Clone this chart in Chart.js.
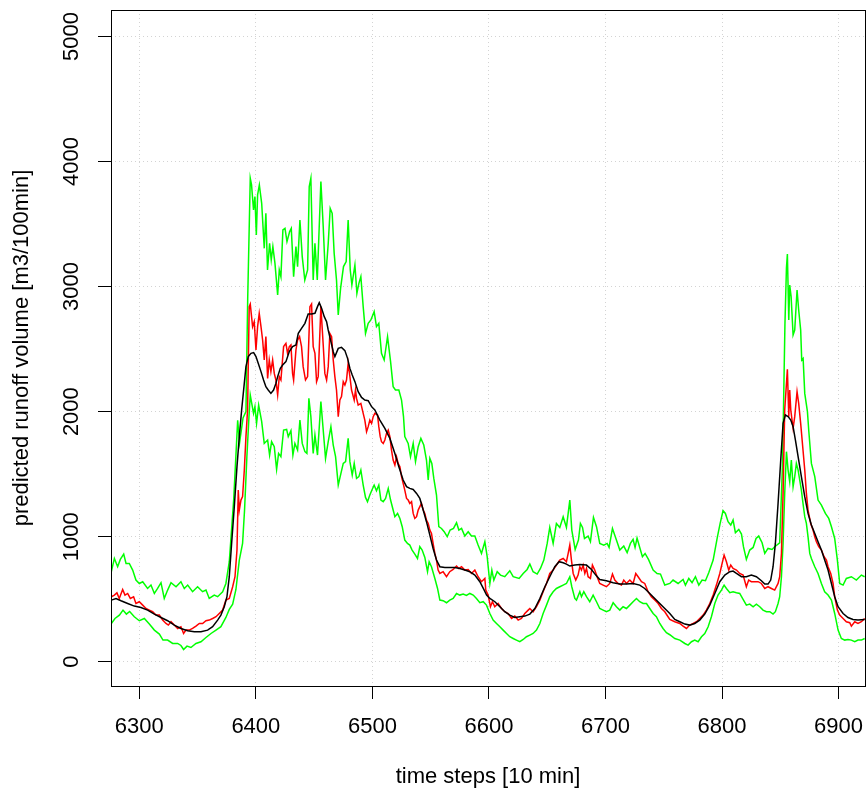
<!DOCTYPE html>
<html>
<head>
<meta charset="utf-8">
<script src="https://cdn.jsdelivr.net/npm/chart.js@4.4.1/dist/chart.umd.min.js"></script>
<style>
    html, body { margin: 0; padding: 0; background: #fff; }
    #caixa { width: 866px; height: 794px; position: relative; }
</style>
</head>
<body>
<div id="caixa"><canvas id="grafico"></canvas></div>
<script>
// ticks e titulos
const xTicks = [6300, 6400, 6500, 6600, 6700, 6800, 6900];
const yTicks = [0, 1000, 2000, 3000, 4000, 5000];
const xTitulo = "time steps [10 min]";
const yTitulo = "predicted runoff volume [m3/100min]";
const xLimites = [6275.7, 6922.7];
const yLimites = [-194, 5212];

// series: [passo de tempo, volume]
const linhaPreta = [[6276,493],[6280,506],[6284.3,488],[6290,466],[6295.7,445],[6301.4,434],[6307.1,413],[6312.9,381],[6318.6,354],[6324.3,328],[6330,293],[6335.7,266],[6341.5,248],[6347.2,240],[6352.9,240],[6358.6,253],[6362.9,280],[6367.2,333],[6370,373],[6372.9,440],[6375.2,520],[6377.2,680],[6379.2,946],[6381.5,1240],[6383.8,1560],[6385.8,1800],[6387.8,2013],[6391.5,2360],[6393.5,2440],[6395.8,2466],[6398.1,2472],[6400.1,2440],[6402.1,2386],[6404.4,2320],[6406.6,2253],[6408.6,2200],[6410.6,2173],[6412.9,2146],[6415.2,2173],[6417.2,2226],[6418.7,2280],[6421,2346],[6423,2373],[6425.8,2400],[6428.7,2480],[6431.5,2520],[6434.4,2533],[6436.4,2626],[6439.2,2666],[6442.1,2706],[6444.9,2781],[6447.8,2781],[6450.7,2786],[6452.9,2840],[6454.4,2871],[6456.4,2826],[6458.7,2760],[6460.7,2720],[6462.1,2653],[6464.4,2560],[6466.4,2480],[6467.8,2440],[6470.7,2506],[6473.5,2514],[6476.4,2488],[6478.7,2426],[6480.7,2346],[6482.7,2293],[6485,2240],[6487.8,2160],[6490.7,2114],[6493.5,2093],[6496.4,2088],[6499.3,2040],[6502.1,2013],[6506.4,1933],[6510.7,1866],[6515,1786],[6519.3,1666],[6522.7,1560],[6526.4,1453],[6529.3,1400],[6532.1,1386],[6535,1378],[6537.9,1346],[6540.7,1306],[6543.6,1213],[6546.4,1120],[6549.3,1013],[6552.1,906],[6555,813],[6557.9,760],[6562.2,754],[6570.7,754],[6575,746],[6579.3,733],[6583.6,720],[6587.9,693],[6592.2,640],[6595.5,580],[6598,533],[6600.8,506],[6605.1,480],[6609.4,440],[6613.6,400],[6617.9,373],[6622.2,354],[6626.5,360],[6630.8,365],[6635.1,381],[6639.4,426],[6643.7,506],[6648,600],[6652.2,680],[6656.5,760],[6660.2,800],[6663.7,792],[6666.5,781],[6669.4,765],[6673.7,773],[6678,778],[6683.7,773],[6688,738],[6691.7,693],[6695.1,658],[6700.8,648],[6706.6,632],[6712.3,621],[6718,621],[6723.7,626],[6729.4,613],[6733.7,586],[6738,546],[6742.3,506],[6746.6,466],[6750.9,426],[6755.2,386],[6759.5,338],[6763.8,320],[6768.1,301],[6772.3,293],[6776.6,306],[6780.9,333],[6785.2,381],[6789.5,453],[6793.8,546],[6798.1,640],[6802.4,693],[6806.7,720],[6809.5,725],[6812.4,706],[6816.7,680],[6820.9,680],[6825.2,693],[6829.5,680],[6833.8,648],[6836.7,621],[6839.5,621],[6841.8,653],[6843.8,760],[6845.8,946],[6848.1,1266],[6850.4,1613],[6852.4,1906],[6854.4,1973],[6856.7,1960],[6859,1933],[6861,1880],[6863,1773],[6865.3,1640],[6868.1,1480],[6871,1320],[6873.8,1186],[6876.7,1093],[6879.6,1026],[6882.4,960],[6885.3,893],[6888.1,813],[6891,733],[6893.9,626],[6896.7,520],[6899.6,440],[6903.9,386],[6908.1,354],[6912.4,338],[6916.7,333],[6922.4,338]];

const linhaVermelha = [[6276,520],[6278.6,533],[6280.8,551],[6282.8,506],[6285.7,578],[6287.7,533],[6290,546],[6292.3,506],[6295.1,520],[6297.1,466],[6300,480],[6302.9,453],[6305.7,426],[6308.6,413],[6311.4,400],[6314.3,373],[6317.2,373],[6320,333],[6322.9,306],[6324.9,293],[6327.2,320],[6330,293],[6332.9,266],[6335.7,280],[6338,226],[6340,253],[6342.9,253],[6345.7,266],[6348.6,285],[6351.5,306],[6354.3,306],[6357.2,328],[6360,333],[6362.9,346],[6365.8,360],[6368.6,386],[6371.5,413],[6374.3,493],[6377.2,506],[6380.1,600],[6382.1,680],[6383.8,893],[6384.9,1373],[6385.8,1213],[6387.2,1293],[6388.6,1320],[6390.1,1533],[6391.5,1800],[6392.9,2013],[6394.3,2840],[6395.2,2861],[6397.2,2680],[6398.6,2720],[6400.1,2493],[6401.5,2680],[6402.9,2786],[6404.4,2680],[6405.8,2573],[6407.2,2413],[6408.6,2600],[6410.1,2266],[6411.5,2413],[6412.9,2320],[6414.4,2413],[6415.8,2306],[6417.2,2253],[6418.7,2133],[6420.1,2280],[6421.5,2253],[6423.8,2520],[6425.8,2546],[6427.2,2466],[6428.7,2520],[6430.1,2533],[6431.5,2306],[6432.4,2253],[6434.4,2493],[6435.8,2573],[6437.5,2600],[6439.2,2520],[6440.6,2360],[6442.6,2253],[6444.4,2280],[6446.4,2840],[6447.8,2861],[6449.2,2520],[6450.7,2466],[6452.1,2240],[6453.5,2280],[6455.8,2840],[6457.8,2533],[6459.2,2306],[6460.7,2253],[6462.1,2360],[6463.5,2626],[6465,2600],[6466.4,2413],[6467.8,2280],[6469.2,2173],[6470.7,1960],[6472.1,2093],[6473.5,2120],[6475,2240],[6476.4,2213],[6477.8,2253],[6479.2,2386],[6480.7,2280],[6482.1,2173],[6484.4,2093],[6485.5,2173],[6486.4,2106],[6487.8,2053],[6490.1,2066],[6492.1,1986],[6493.5,1933],[6495,1840],[6496.4,1880],[6497.8,1933],[6499.3,1906],[6500.7,1960],[6502.1,1986],[6504.4,1973],[6505.5,1880],[6506.7,1800],[6507.8,1760],[6509.3,1746],[6510.7,1773],[6512.1,1826],[6513.6,1853],[6515,1800],[6516.4,1693],[6517.8,1613],[6519.3,1573],[6520.7,1640],[6522.1,1586],[6523.6,1560],[6525,1480],[6526.4,1426],[6527.8,1373],[6529.3,1306],[6530.7,1293],[6532.1,1266],[6533.6,1280],[6535,1186],[6536.4,1146],[6537.9,1160],[6539.3,1213],[6540.7,1240],[6542.1,1266],[6543.6,1213],[6545,1186],[6546.4,1133],[6547.9,1106],[6549.3,1053],[6550.7,1026],[6552.1,946],[6553.6,866],[6555,813],[6556.4,733],[6557.9,706],[6560.7,720],[6563.6,680],[6566.4,720],[6569.3,738],[6572.2,765],[6574.2,746],[6576.5,760],[6579.3,733],[6582.2,738],[6585,706],[6587.9,733],[6590.7,680],[6593.6,640],[6596.5,666],[6597.3,573],[6599.3,533],[6601.3,440],[6603,480],[6605,440],[6607.9,466],[6610.8,426],[6613.6,400],[6616.5,386],[6619.4,346],[6622.2,365],[6625.1,333],[6627.9,346],[6630.8,386],[6633.7,413],[6635.1,426],[6637.9,400],[6640.8,440],[6643.7,493],[6646.5,560],[6649.4,626],[6652.2,706],[6655.1,733],[6657.9,773],[6660.8,813],[6663.7,826],[6666.5,800],[6668,866],[6669.4,933],[6670.8,813],[6672.3,706],[6674.5,653],[6676.5,693],[6678,760],[6679.4,733],[6680.8,773],[6682.3,706],[6683.7,746],[6685.1,680],[6687.1,666],[6688.8,773],[6690.8,733],[6692.8,680],[6695.1,626],[6698,613],[6700.8,600],[6703.7,626],[6706,701],[6708,653],[6710.8,626],[6713.7,613],[6715.7,653],[6718,626],[6720.9,653],[6723.7,626],[6726,706],[6728,680],[6730.9,640],[6733.7,626],[6736.6,560],[6739.4,520],[6742.3,493],[6745.2,466],[6748,426],[6750.9,400],[6753.7,360],[6755.2,338],[6759.5,320],[6763.8,306],[6766.6,285],[6769.5,266],[6772.3,293],[6775.2,306],[6778.1,320],[6780.9,346],[6783.8,373],[6786.6,413],[6789.5,466],[6792.4,533],[6795.2,613],[6798.1,706],[6800.1,786],[6801.8,853],[6803.8,800],[6805.8,733],[6807.5,773],[6809.5,746],[6812.4,733],[6815.2,706],[6818.1,693],[6820.9,600],[6822.9,653],[6825.2,640],[6828.1,640],[6831,640],[6833.8,626],[6836.7,586],[6839.5,600],[6842.4,586],[6845.2,573],[6848.1,626],[6849.5,680],[6851,866],[6852.4,1346],[6853.8,2013],[6856.1,2338],[6857.3,1960],[6858.1,2173],[6859,2013],[6861,1866],[6862.4,1960],[6864.4,2160],[6865.8,2066],[6867.5,1906],[6869.5,1693],[6871,1533],[6872.4,1346],[6873.8,1213],[6876.1,1106],[6878.1,1053],[6879.6,1000],[6881,960],[6883,920],[6885.3,893],[6887.6,840],[6889.6,813],[6891,760],[6893.3,706],[6895.3,626],[6896.7,520],[6899,413],[6901,373],[6903.9,346],[6906.7,320],[6909.6,312],[6911,285],[6913.9,320],[6916.7,306],[6919.6,320],[6922.4,346]];

const verdeSuperior = [[6276,720],[6278.6,826],[6281.4,760],[6283.7,818],[6286.6,861],[6288.6,786],[6291.4,786],[6294.3,733],[6297.1,653],[6300,626],[6302.9,640],[6307.1,586],[6310,613],[6312.9,546],[6315.7,586],[6318.6,632],[6321.4,506],[6324.3,573],[6327.2,632],[6331.5,600],[6335.7,640],[6338.6,586],[6341.5,613],[6345.7,560],[6350,600],[6354.3,560],[6357.2,573],[6360,506],[6364.3,533],[6367.2,520],[6371.5,560],[6374.3,626],[6377.2,800],[6381,1300],[6384.4,1930],[6386,1750],[6389,1950],[6391.5,2000],[6393,2900],[6395.2,3866],[6396.3,3813],[6398,3613],[6399.2,3720],[6400.4,3413],[6401.5,3733],[6403,3813],[6405,3666],[6407.2,3306],[6408.6,3586],[6410,3133],[6411.8,3346],[6413.2,3213],[6414.6,3320],[6416.4,3186],[6418.7,2933],[6420.1,3133],[6421.5,3080],[6423.2,3453],[6425,3466],[6426.7,3360],[6429,3440],[6430.4,3466],[6432.4,3080],[6434.4,3320],[6435.8,3160],[6437.8,3533],[6439.8,3240],[6442,3053],[6444.4,3133],[6445.8,3800],[6447.2,3866],[6449.2,3053],[6450.7,3346],[6452.7,3053],[6455.8,3840],[6457.8,3480],[6459.8,3053],[6462.1,3346],[6463.8,3626],[6465.5,3586],[6467.2,3266],[6469.2,3053],[6470.7,2773],[6472.7,2986],[6475.2,3160],[6477.5,3200],[6479.2,3533],[6481,3133],[6482.4,3013],[6485,3173],[6486.7,2946],[6488.4,3026],[6490.1,3080],[6492.1,2840],[6494.1,2626],[6496.4,2706],[6498.7,2733],[6501.5,2800],[6503.5,2680],[6505.5,2706],[6507.8,2466],[6510.1,2413],[6513,2600],[6515.6,2400],[6517.8,2200],[6519.8,2173],[6522.7,2173],[6525,2093],[6526.7,1960],[6527.8,1800],[6530.7,1746],[6532.7,1640],[6535,1746],[6537,1600],[6539.3,1720],[6541.6,1786],[6544.1,1733],[6546.4,1613],[6547.9,1453],[6549.3,1626],[6551,1586],[6552.7,1466],[6555,1333],[6557,1080],[6559.3,1066],[6561.6,1040],[6564.2,1000],[6566.7,1053],[6569.6,1066],[6572.2,1112],[6574.2,1053],[6576.5,1066],[6579.3,1005],[6582.2,1040],[6585,1005],[6587.9,1005],[6590.7,933],[6593.6,866],[6596.5,960],[6598.5,840],[6600.8,626],[6602.5,733],[6604.2,653],[6607.1,720],[6609.9,693],[6613.6,680],[6617.9,728],[6620.8,680],[6625.9,666],[6629.4,706],[6632.8,738],[6635.1,781],[6637.9,720],[6641.4,701],[6644.2,746],[6647.1,813],[6650,946],[6652.2,1074],[6655.1,946],[6657.9,1106],[6660.8,1074],[6663.7,1160],[6666.5,1074],[6669.4,1293],[6671.1,1053],[6674,898],[6676.8,973],[6678.5,1106],[6680.3,1074],[6682,986],[6685.1,1005],[6687.1,960],[6689.7,1154],[6692.3,1080],[6695.1,946],[6698.6,933],[6701.4,946],[6703.1,914],[6706,1066],[6709.4,973],[6712.3,893],[6715.7,925],[6718.6,872],[6721.4,946],[6723.7,978],[6725.4,914],[6727.1,989],[6729.4,914],[6731.7,840],[6734,866],[6736.9,818],[6740.9,733],[6744.3,706],[6747.2,701],[6750.9,613],[6755.2,626],[6758,653],[6762.3,626],[6766.6,658],[6768.6,613],[6771.5,666],[6774.3,632],[6777.2,680],[6780.1,613],[6782.9,653],[6785.8,648],[6788.6,712],[6792.4,813],[6796.1,1000],[6798.4,1106],[6800.9,1208],[6802.9,1186],[6805.2,1120],[6807.5,1093],[6809.5,1133],[6811.5,1032],[6814.4,1058],[6816.7,1021],[6818.4,920],[6820.9,818],[6823.8,893],[6826.7,914],[6829.2,986],[6831.5,1005],[6834.4,952],[6836.7,866],[6839.5,906],[6843,898],[6845.2,920],[6849.5,950],[6852,1600],[6854,2700],[6855.3,3150],[6856.1,3261],[6857.3,2733],[6858.1,3013],[6859.3,2920],[6861,2613],[6862.4,2653],[6864.4,2973],[6865.8,2813],[6867.5,2653],[6868.4,2413],[6869.6,2426],[6871,2146],[6873.3,2000],[6874.4,1853],[6876.7,1586],[6879.6,1480],[6882.4,1293],[6885.3,1253],[6888.7,1186],[6891.6,1146],[6893.9,1080],[6896.7,986],[6899,813],[6901,626],[6903.9,613],[6906.7,666],[6911,680],[6915.3,653],[6919.6,693],[6922.4,680]];

const verdeInferior = [[6276,306],[6279.1,346],[6282.9,373],[6286,413],[6288.9,381],[6291.7,402],[6295.7,360],[6300,328],[6304.3,346],[6308.6,301],[6312.9,253],[6317.2,221],[6320.3,173],[6324.3,173],[6328.6,146],[6332.9,146],[6335.7,130],[6338,98],[6340.9,125],[6344.3,114],[6348.6,146],[6352.9,160],[6357.2,194],[6361.5,226],[6365.8,253],[6370,280],[6374.3,354],[6377.2,418],[6380.1,461],[6382.9,578],[6385.8,813],[6388.6,946],[6390.3,1213],[6392.3,1640],[6394.1,1960],[6395.2,2133],[6398,1986],[6399.2,2040],[6400.6,1906],[6402.4,2053],[6405,1920],[6407.2,1746],[6410.1,1773],[6411.8,1653],[6413.5,1760],[6415.8,1720],[6417.8,1538],[6419.5,1666],[6421.5,1640],[6423.8,1853],[6426.4,1858],[6427.8,1800],[6430.1,1848],[6431.8,1653],[6433.5,1746],[6435.8,1693],[6437.8,1933],[6439.8,1746],[6442.1,1680],[6443.8,1666],[6445.5,2106],[6447.2,1960],[6449.2,1666],[6450.7,1813],[6452.9,1653],[6455.8,2080],[6457.8,1853],[6459.8,1626],[6462.1,1760],[6464.4,1880],[6466.4,1733],[6468.4,1640],[6470.7,1413],[6473,1506],[6475,1586],[6477,1600],[6479.2,1786],[6480.7,1600],[6482.7,1493],[6484.4,1586],[6486.4,1466],[6488.4,1480],[6490.1,1533],[6492.1,1413],[6494.1,1314],[6495.8,1280],[6497.8,1333],[6499.8,1378],[6501.5,1413],[6503.5,1368],[6505.5,1413],[6507.3,1293],[6509.3,1280],[6511.3,1306],[6513.6,1386],[6515.6,1293],[6517.8,1213],[6519.3,1160],[6521.6,1186],[6523.6,1146],[6525.6,1080],[6527.8,973],[6530.1,946],[6532.1,933],[6534.1,893],[6536.4,861],[6538.7,826],[6540.7,920],[6542.7,893],[6545,834],[6547.3,720],[6548.7,800],[6550.7,760],[6553.6,666],[6555.9,586],[6557.9,493],[6560.7,488],[6563.6,472],[6566.4,493],[6569.3,506],[6572.2,546],[6575,533],[6577.9,541],[6580.7,530],[6583.6,546],[6586.5,533],[6589.3,506],[6592.2,472],[6595.1,480],[6597.9,453],[6600.8,386],[6603.6,333],[6606.5,306],[6609.4,280],[6612.2,253],[6615.1,226],[6617.9,200],[6620.8,186],[6623.6,173],[6626.5,160],[6629.4,178],[6632.2,200],[6635.1,213],[6637.9,226],[6640.8,253],[6643.7,306],[6646.5,386],[6649.4,453],[6652.2,520],[6655.1,560],[6657.9,586],[6660.8,600],[6663.7,613],[6666.5,626],[6669.4,680],[6671.1,600],[6673.7,506],[6675.1,493],[6678,560],[6679.4,520],[6681.4,560],[6683.7,520],[6686.5,480],[6689.4,533],[6692.3,480],[6695.1,426],[6698,413],[6700.8,400],[6703.7,413],[6706.6,472],[6709.4,440],[6712.3,413],[6715.1,440],[6718,426],[6720.9,453],[6723.7,480],[6726.6,506],[6729.4,480],[6732.3,466],[6735.2,466],[6738,426],[6740.9,386],[6743.7,360],[6746.6,306],[6749.4,266],[6752.3,232],[6755.2,216],[6759.5,186],[6763.8,173],[6768.1,146],[6770.9,133],[6773.8,160],[6776.6,173],[6779.5,160],[6782.4,200],[6785.2,226],[6788.1,280],[6790.9,360],[6793.8,466],[6796.6,533],[6799.5,573],[6801.8,613],[6803.8,586],[6806.7,552],[6809.5,560],[6812.4,552],[6815.2,546],[6818.1,498],[6820.9,453],[6823.8,461],[6826.7,440],[6829.5,461],[6832.4,440],[6835.2,413],[6838.1,400],[6841,400],[6843.8,381],[6845.8,400],[6848.1,466],[6849.5,520],[6851,680],[6852.4,946],[6853.8,1346],[6855.3,1680],[6856.7,1533],[6858.1,1440],[6859.5,1613],[6861,1400],[6862.4,1480],[6863.8,1586],[6865.3,1533],[6866.7,1453],[6868.1,1373],[6869.5,1266],[6871,1160],[6872.4,1106],[6873.8,1000],[6875.3,866],[6876.7,826],[6879.6,760],[6882.4,706],[6885.3,626],[6888.1,560],[6891,533],[6893.9,493],[6896.7,386],[6899.6,253],[6902.4,186],[6905.3,173],[6908.1,178],[6911,173],[6913.9,160],[6916.7,173],[6919.6,173],[6922.4,186]];

const fonte = '22px "Liberation Sans", Arial, Helvetica, sans-serif';

function pontos(serie) {
    return serie.map(p => ({ x: p[0], y: p[1] }));
}

function serie(dados, cor) {
    return {
        data: pontos(dados),
        borderColor: cor,
        borderWidth: 1.5,
        pointRadius: 0,
        tension: 0,
        fill: false
    };
}

// caixa, rotulos dos ticks e titulos no estilo do R
const eixosR = {
    id: "eixosR",
    afterDraw(chart) {
        const { ctx, chartArea: a, scales } = chart;
        ctx.save();
        ctx.strokeStyle = "#000";
        ctx.lineWidth = 1;
        ctx.strokeRect(a.left + 0.5, a.top + 0.5, a.right - a.left, a.bottom - a.top);

        ctx.fillStyle = "#000";
        ctx.font = fonte;
        ctx.textAlign = "center";
        ctx.textBaseline = "middle";
        xTicks.forEach(v => ctx.fillText(String(v), scales.x.getPixelForValue(v), 727));
        ctx.fillText(xTitulo, (a.left + a.right) / 2, 777);

        yTicks.forEach(v => {
            ctx.save();
            ctx.translate(72, scales.y.getPixelForValue(v));
            ctx.rotate(-Math.PI / 2);
            ctx.fillText(String(v), 0, 0);
            ctx.restore();
        });
        ctx.save();
        ctx.translate(22, (a.top + a.bottom) / 2);
        ctx.rotate(-Math.PI / 2);
        ctx.fillText(yTitulo, 0, 0);
        ctx.restore();
        ctx.restore();
    }
};

const grade = {
    color: "#d3d3d3",
    lineWidth: 1,
    drawTicks: true,
    tickLength: 13,
    tickColor: "#000",
    tickWidth: 1,
    tickBorderDash: []
};

new Chart(document.getElementById("grafico").getContext("2d"), {
    type: "line",
    data: {
        datasets: [
            serie(linhaPreta, "#000000"),
            serie(linhaVermelha, "#ff0000"),
            serie(verdeSuperior, "#00ff00"),
            serie(verdeInferior, "#00ff00")
        ]
    },
    options: {
        responsive: true,
        maintainAspectRatio: false,
        animation: false,
        devicePixelRatio: 1,
        layout: { padding: { top: 10, right: 1, left: 0, bottom: 0 } },
        plugins: {
            legend: { display: false },
            tooltip: { enabled: false }
        },
        scales: {
            x: {
                type: "linear",
                min: xLimites[0],
                max: xLimites[1],
                afterBuildTicks: s => { s.ticks = xTicks.map(v => ({ value: v })); },
                afterFit: s => { s.height = 108; },
                ticks: { display: false },
                grid: grade,
                border: { display: false, dash: [1, 3] }
            },
            y: {
                type: "linear",
                min: yLimites[0],
                max: yLimites[1],
                afterBuildTicks: s => { s.ticks = yTicks.map(v => ({ value: v })); },
                afterFit: s => { s.width = 111; },
                ticks: { display: false },
                grid: grade,
                border: { display: false, dash: [1, 3] }
            }
        }
    },
    plugins: [eixosR]
});
</script>
</body>
</html>
